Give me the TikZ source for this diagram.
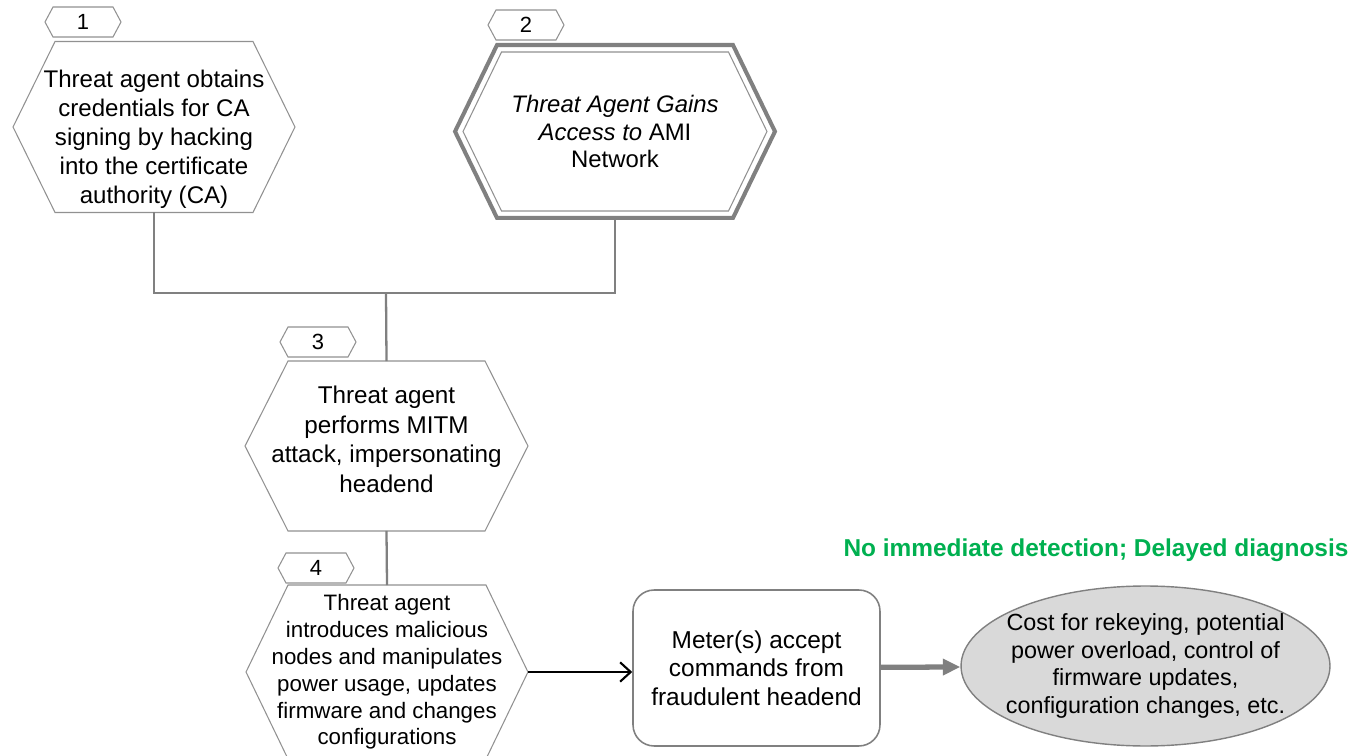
\documentclass[tikz,border=0pt]{standalone}
\usepackage{fontspec}
\setmainfont{Liberation Sans}
\usetikzlibrary{shapes.geometric, arrows.meta, calc}
\definecolor{linegray}{RGB}{128,128,128}
\definecolor{hexgray}{RGB}{145,145,145}
\definecolor{ellfill}{RGB}{217,217,217}
\definecolor{detgreen}{RGB}{0,176,80}

\begin{document}
\begin{tikzpicture}[x=0.02cm, y=-0.02cm,
    hexbox/.style={inner sep=0pt, outer sep=0pt, align=center, font=\fontsize{13.7}{16.4}\selectfont},
    tabbox/.style={inner sep=0pt, outer sep=0pt, minimum width=1.52cm, minimum height=0.6cm, font=\fontsize{12.5}{14}\selectfont},
    hexline/.style={draw=hexgray, line width=0.6pt},
    conn/.style={draw=linegray, line width=1.3pt}]
             \useasboundingbox (0,0) rectangle (1365,756);
             \clip (0,0) rectangle (1365,756);
             \node (hexA) [hexbox, minimum width=5.64cm, minimum height=3.42cm] at (154,127) {\rule{0pt}{24pt}Threat agent obtains\\credentials for CA\\signing by hacking\\into the certificate\\authority (CA)};
             \node (hexB) [hexbox, minimum width=6.4cm, minimum height=3.46cm, font=\fontsize{13.6}{15.9}\selectfont] at (615,131.5) {\textit{Threat Agent Gains}\\\textit{Access to} AMI\\Network};
             \node (hexC) [hexbox, minimum width=5.66cm, minimum height=3.4cm, font=\fontsize{13.8}{16.8}\selectfont] at (386.5,446) {Threat agent\\performs MITM\\attack, impersonating\\headend\rule[-7.5pt]{0pt}{7.5pt}};
             \node (hexD) [hexbox, minimum width=5.64cm, minimum height=3.48cm, font=\fontsize{12.7}{15.3}\selectfont] at (387,672) {Threat agent\\introduces malicious\\nodes and manipulates\\power usage, updates\\firmware and changes\\configurations};
             \node (tabA) [tabbox] at (83,22) {1};
             \node (tabB) [tabbox] at (526,25) {2};
             \node (tabC) [tabbox] at (318,342) {3};
             \node (tabD) [tabbox] at (316,568) {4};
             \foreach \n/\i in {hexA/0.84cm, hexC/0.86cm, hexD/0.84cm, tabA/0.16cm, tabB/0.16cm, tabC/0.16cm, tabD/0.16cm}
               \draw[hexline] ([xshift=\i]\n.north west) -- ([xshift=-\i]\n.north east) -- (\n.east) -- ([xshift=-\i]\n.south east) -- ([xshift=\i]\n.south west) -- (\n.west) -- cycle;
             \draw[draw=linegray, line width=2.3pt] ([xshift=0.84cm]hexB.north west) -- ([xshift=-0.84cm]hexB.north east) -- (hexB.east) -- ([xshift=-0.84cm]hexB.south east) -- ([xshift=0.84cm]hexB.south west) -- (hexB.west) -- cycle;
             \draw[hexline] ([shift={(0.93cm,-0.14cm)}]hexB.north west) -- ([shift={(-0.93cm,-0.14cm)}]hexB.north east) -- ([xshift=-0.16cm]hexB.east) -- ([shift={(-0.93cm,0.14cm)}]hexB.south east) -- ([shift={(0.93cm,0.14cm)}]hexB.south west) -- ([xshift=0.16cm]hexB.west) -- cycle;
             \coordinate (join) at (386,293);
             \draw[conn] (hexA.south) |- (join) -| (hexB.south);
             \draw[conn] (join) -- (hexC.north);
             \draw[conn] (hexC.south) -- (hexD.north);
             \node (meter) [draw=linegray, line width=0.9pt, rounded corners=12pt, minimum width=4.94cm, minimum height=3.12cm, align=center, font=\fontsize{13.9}{16.2}\selectfont] at (756.5,668) {Meter(s) accept\\commands from\\fraudulent headend};
             \node (cost) [shape=ellipse, draw=linegray, line width=0.8pt, fill=ellfill, minimum width=7.38cm, minimum height=3.2cm, inner xsep=-0.3cm, inner ysep=0pt, align=center, font=\fontsize{13.3}{15.7}\selectfont] at (1145.5,666) {Cost for rekeying, potential\\power overload, control of\\firmware updates,\\configuration changes, etc.};
             \node (detect) [font=\fontsize{13.9}{16}\selectfont\bfseries, text=detgreen] at (1096,550) {No immediate detection; Delayed diagnosis};
             \draw[-{Straight Barb[length=6pt,width=11pt]}, line width=1.2pt] (hexD.east) -- (hexD.east -| meter.west);
             \draw[-{Triangle[length=10pt,width=9pt]}, draw=linegray, fill=linegray, line width=3pt] (meter) -- (cost);
         \end{tikzpicture}
\end{document}
